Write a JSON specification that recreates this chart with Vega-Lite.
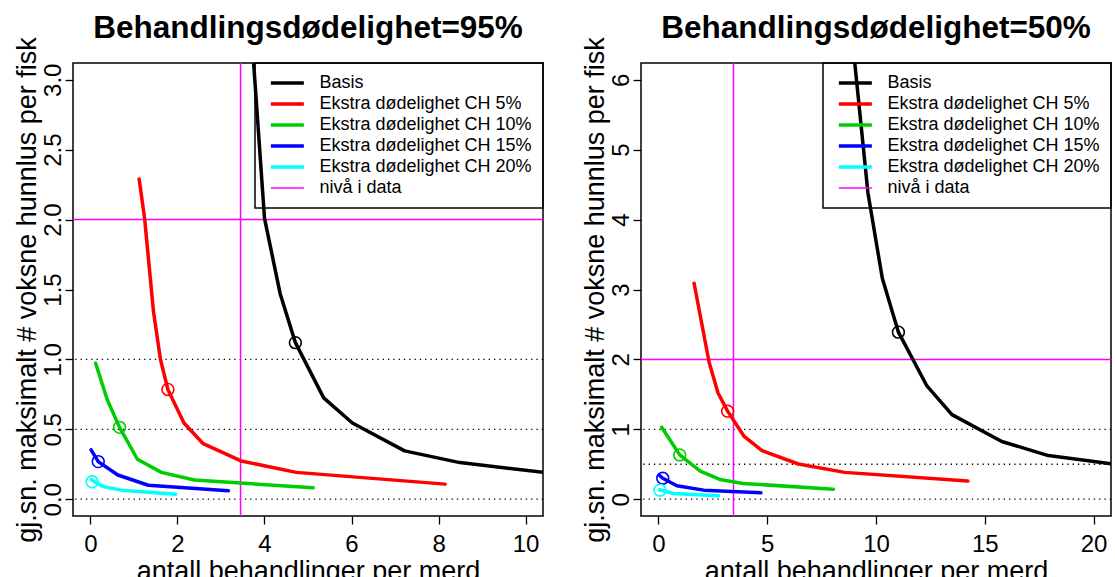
{
  "$schema": "https://vega.github.io/schema/vega-lite/v6.json",
  "background": "white",
  "padding": {"left": 12, "top": 11, "right": 2, "bottom": 0},
  "config": {
    "font": "Liberation Sans",
    "view": {"stroke": "black", "strokeWidth": 1.5},
    "axis": {"domain": false, "grid": false, "tickColor": "black", "tickSize": 8, "tickWidth": 1.3, "labelFontSize": 24, "labelColor": "black", "titleFontSize": 27, "titleFontWeight": "normal", "titleColor": "black", "labelFont": "Liberation Sans", "titleFont": "Liberation Sans", "labelOverlap": false, "labelFlush": false},
    "axisY": {"labelAngle": -90, "labelAlign": "center", "labelBaseline": "alphabetic", "labelPadding": 5, "titlePadding": 0},
    "axisX": {"labelPadding": 8, "titlePadding": 2},
    "legend": {"orient": "top-right", "offset": 0, "strokeColor": "black", "strokeWidth": 1.5, "padding": 11, "labelFontSize": 18, "labelColor": "black", "labelFont": "Liberation Sans", "labelLimit": 0, "symbolType": "M-0.5,0H3.5", "symbolSize": 272, "symbolStrokeWidth": 3.5, "labelOffset": 35.5, "rowPadding": 3, "cornerRadius": 0, "title": null},
    "title": {"fontSize": 31.5, "fontWeight": "bold", "color": "black", "anchor": "middle", "offset": -7.5, "baseline": "alphabetic", "font": "Liberation Sans"}
  },
  "datasets": {
    "dotted": [{"level": 0}, {"level": 0.5}, {"level": 1}],
    "vref": [{"series": "nivå i data", "x": 3.45}],
    "href": [{"series": "nivå i data", "y": 2}],
    "curves95": [
      {"series": "Basis", "x": 3.71, "y": 3.3},
      {"series": "Basis", "x": 4.0, "y": 2.01},
      {"series": "Basis", "x": 4.36, "y": 1.47},
      {"series": "Basis", "x": 4.71, "y": 1.12},
      {"series": "Basis", "x": 5.36, "y": 0.725},
      {"series": "Basis", "x": 6.02, "y": 0.545},
      {"series": "Basis", "x": 7.22, "y": 0.346},
      {"series": "Basis", "x": 8.49, "y": 0.262},
      {"series": "Basis", "x": 10.6, "y": 0.185},
      {"series": "Ekstra dødelighet CH 5%", "x": 1.12, "y": 2.29},
      {"series": "Ekstra dødelighet CH 5%", "x": 1.245, "y": 2.01},
      {"series": "Ekstra dødelighet CH 5%", "x": 1.45, "y": 1.34},
      {"series": "Ekstra dødelighet CH 5%", "x": 1.61, "y": 1.0},
      {"series": "Ekstra dødelighet CH 5%", "x": 1.78, "y": 0.785},
      {"series": "Ekstra dødelighet CH 5%", "x": 2.15, "y": 0.545},
      {"series": "Ekstra dødelighet CH 5%", "x": 2.58, "y": 0.40},
      {"series": "Ekstra dødelighet CH 5%", "x": 3.46, "y": 0.274},
      {"series": "Ekstra dødelighet CH 5%", "x": 4.73, "y": 0.192},
      {"series": "Ekstra dødelighet CH 5%", "x": 8.15, "y": 0.108},
      {"series": "Ekstra dødelighet CH 10%", "x": 0.12, "y": 0.973},
      {"series": "Ekstra dødelighet CH 10%", "x": 0.385, "y": 0.713},
      {"series": "Ekstra dødelighet CH 10%", "x": 0.67, "y": 0.514},
      {"series": "Ekstra dødelighet CH 10%", "x": 1.08, "y": 0.286},
      {"series": "Ekstra dødelighet CH 10%", "x": 1.63, "y": 0.192},
      {"series": "Ekstra dødelighet CH 10%", "x": 2.39, "y": 0.137},
      {"series": "Ekstra dødelighet CH 10%", "x": 5.12, "y": 0.082},
      {"series": "Ekstra dødelighet CH 15%", "x": 0.016, "y": 0.353},
      {"series": "Ekstra dødelighet CH 15%", "x": 0.18, "y": 0.269},
      {"series": "Ekstra dødelighet CH 15%", "x": 0.63, "y": 0.173},
      {"series": "Ekstra dødelighet CH 15%", "x": 1.33, "y": 0.10},
      {"series": "Ekstra dødelighet CH 15%", "x": 3.17, "y": 0.06},
      {"series": "Ekstra dødelighet CH 20%", "x": 0.02, "y": 0.14},
      {"series": "Ekstra dødelighet CH 20%", "x": 0.3, "y": 0.09},
      {"series": "Ekstra dødelighet CH 20%", "x": 0.71, "y": 0.065},
      {"series": "Ekstra dødelighet CH 20%", "x": 1.96, "y": 0.036}
    ],
    "marks95": [
      {"series": "Basis", "x": 4.71, "y": 1.12},
      {"series": "Ekstra dødelighet CH 5%", "x": 1.78, "y": 0.785},
      {"series": "Ekstra dødelighet CH 10%", "x": 0.67, "y": 0.514},
      {"series": "Ekstra dødelighet CH 15%", "x": 0.18, "y": 0.269},
      {"series": "Ekstra dødelighet CH 20%", "x": 0.04, "y": 0.125}
    ],
    "curves50": [
      {"series": "Basis", "x": 8.94, "y": 6.5},
      {"series": "Basis", "x": 9.63, "y": 4.38},
      {"series": "Basis", "x": 10.29, "y": 3.16},
      {"series": "Basis", "x": 11.03, "y": 2.39},
      {"series": "Basis", "x": 12.34, "y": 1.62},
      {"series": "Basis", "x": 13.49, "y": 1.21},
      {"series": "Basis", "x": 15.78, "y": 0.826},
      {"series": "Basis", "x": 17.92, "y": 0.624},
      {"series": "Basis", "x": 21.2, "y": 0.49},
      {"series": "Ekstra dødelighet CH 5%", "x": 1.64, "y": 3.09},
      {"series": "Ekstra dødelighet CH 5%", "x": 2.33, "y": 1.96},
      {"series": "Ekstra dødelighet CH 5%", "x": 2.74, "y": 1.52},
      {"series": "Ekstra dødelighet CH 5%", "x": 3.18, "y": 1.26},
      {"series": "Ekstra dødelighet CH 5%", "x": 3.94, "y": 0.898},
      {"series": "Ekstra dødelighet CH 5%", "x": 4.76, "y": 0.696},
      {"series": "Ekstra dødelighet CH 5%", "x": 6.43, "y": 0.504},
      {"series": "Ekstra dødelighet CH 5%", "x": 8.56, "y": 0.384},
      {"series": "Ekstra dødelighet CH 5%", "x": 14.22, "y": 0.259},
      {"series": "Ekstra dødelighet CH 10%", "x": 0.15, "y": 1.03},
      {"series": "Ekstra dødelighet CH 10%", "x": 0.98, "y": 0.634},
      {"series": "Ekstra dødelighet CH 10%", "x": 1.92, "y": 0.403},
      {"series": "Ekstra dødelighet CH 10%", "x": 2.82, "y": 0.283},
      {"series": "Ekstra dødelighet CH 10%", "x": 3.89, "y": 0.226},
      {"series": "Ekstra dødelighet CH 10%", "x": 8.04, "y": 0.144},
      {"series": "Ekstra dødelighet CH 15%", "x": 0.03, "y": 0.346},
      {"series": "Ekstra dødelighet CH 15%", "x": 0.20, "y": 0.30},
      {"series": "Ekstra dødelighet CH 15%", "x": 0.85, "y": 0.192},
      {"series": "Ekstra dødelighet CH 15%", "x": 2.08, "y": 0.13},
      {"series": "Ekstra dødelighet CH 15%", "x": 4.71, "y": 0.091},
      {"series": "Ekstra dødelighet CH 20%", "x": 0.05, "y": 0.135},
      {"series": "Ekstra dødelighet CH 20%", "x": 0.69, "y": 0.082},
      {"series": "Ekstra dødelighet CH 20%", "x": 2.76, "y": 0.048}
    ],
    "marks50": [
      {"series": "Basis", "x": 11.03, "y": 2.39},
      {"series": "Ekstra dødelighet CH 5%", "x": 3.18, "y": 1.26},
      {"series": "Ekstra dødelighet CH 10%", "x": 0.98, "y": 0.634},
      {"series": "Ekstra dødelighet CH 15%", "x": 0.20, "y": 0.30},
      {"series": "Ekstra dødelighet CH 20%", "x": 0.07, "y": 0.13}
    ]
  },
  "spacing": 35,
  "resolve": {"scale": {"color": "independent", "stroke": "independent"}},
  "hconcat": [
    {
      "width": 470,
      "height": 453,
      "title": {"text": "Behandlingsdødelighet=95%"},
      "layer": [
        {
          "data": {"name": "dotted"},
          "mark": {"type": "rule", "color": "black", "strokeWidth": 1.3, "strokeDash": [1.3, 4]},
          "encoding": {"y": {"field": "level", "type": "quantitative", "scale": {"domain": [-0.12, 3.12], "nice": false, "zero": false}, "axis": {"values": [0, 0.5, 1, 1.5, 2, 2.5, 3], "format": ".1f", "labelFontSize": 24, "title": "gj.sn. maksimalt # voksne hunnlus per fisk"}}}
        },
        {
          "data": {"name": "vref"},
          "mark": {"type": "rule", "strokeWidth": 1.5},
          "encoding": {
            "x": {"field": "x", "type": "quantitative", "scale": {"domain": [-0.4, 10.4], "nice": false, "zero": false}, "axis": {"values": [0, 2, 4, 6, 8, 10], "labelFontSize": 24, "title": "antall behandlinger per merd"}},
            "color": {"field": "series", "type": "nominal"}
          }
        },
        {
          "data": {"name": "href"},
          "mark": {"type": "rule", "strokeWidth": 1.5},
          "encoding": {
            "y": {"field": "y", "type": "quantitative"},
            "color": {"field": "series", "type": "nominal"}
          }
        },
        {
          "data": {"name": "curves95"},
          "mark": {"type": "line", "clip": true, "strokeWidth": 3.5, "strokeCap": "round", "strokeJoin": "round"},
          "encoding": {
            "x": {"field": "x", "type": "quantitative"},
            "y": {"field": "y", "type": "quantitative"},
            "color": {"field": "series", "type": "nominal", "scale": {"domain": ["Basis", "Ekstra dødelighet CH 5%", "Ekstra dødelighet CH 10%", "Ekstra dødelighet CH 15%", "Ekstra dødelighet CH 20%", "nivå i data"], "range": ["#000000", "#FF0000", "#00CD00", "#0000FF", "#00FFFF", "#FF00FF"]}, "legend": {"encode": {"symbols": {"update": {"strokeWidth": {"signal": "datum.value === 'nivå i data' ? 1.5 : 3.5"}}}}}}
          }
        },
        {
          "data": {"name": "marks95"},
          "mark": {"type": "point", "shape": "circle", "filled": false, "size": 140, "strokeWidth": 1.6, "opacity": 1},
          "encoding": {
            "x": {"field": "x", "type": "quantitative"},
            "y": {"field": "y", "type": "quantitative"},
            "stroke": {"field": "series", "type": "nominal", "legend": null, "scale": {"domain": ["Basis", "Ekstra dødelighet CH 5%", "Ekstra dødelighet CH 10%", "Ekstra dødelighet CH 15%", "Ekstra dødelighet CH 20%"], "range": ["#000000", "#FF0000", "#00CD00", "#0000FF", "#00FFFF"]}}
          }
        }
      ]
    },
    {
      "width": 470,
      "height": 453,
      "title": {"text": "Behandlingsdødelighet=50%"},
      "layer": [
        {
          "data": {"name": "dotted"},
          "mark": {"type": "rule", "color": "black", "strokeWidth": 1.3, "strokeDash": [1.3, 4]},
          "encoding": {"y": {"field": "level", "type": "quantitative", "scale": {"domain": [-0.24, 6.24], "nice": false, "zero": false}, "axis": {"values": [0, 1, 2, 3, 4, 5, 6], "format": "d", "labelFontSize": 24, "title": "gj.sn. maksimalt # voksne hunnlus per fisk"}}}
        },
        {
          "data": {"name": "vref"},
          "mark": {"type": "rule", "strokeWidth": 1.5},
          "encoding": {
            "x": {"field": "x", "type": "quantitative", "scale": {"domain": [-0.8, 20.8], "nice": false, "zero": false}, "axis": {"values": [0, 5, 10, 15, 20], "labelFontSize": 24, "title": "antall behandlinger per merd"}},
            "color": {"field": "series", "type": "nominal"}
          }
        },
        {
          "data": {"name": "href"},
          "mark": {"type": "rule", "strokeWidth": 1.5},
          "encoding": {
            "y": {"field": "y", "type": "quantitative"},
            "color": {"field": "series", "type": "nominal"}
          }
        },
        {
          "data": {"name": "curves50"},
          "mark": {"type": "line", "clip": true, "strokeWidth": 3.5, "strokeCap": "round", "strokeJoin": "round"},
          "encoding": {
            "x": {"field": "x", "type": "quantitative"},
            "y": {"field": "y", "type": "quantitative"},
            "color": {"field": "series", "type": "nominal", "scale": {"domain": ["Basis", "Ekstra dødelighet CH 5%", "Ekstra dødelighet CH 10%", "Ekstra dødelighet CH 15%", "Ekstra dødelighet CH 20%", "nivå i data"], "range": ["#000000", "#FF0000", "#00CD00", "#0000FF", "#00FFFF", "#FF00FF"]}, "legend": {"encode": {"symbols": {"update": {"strokeWidth": {"signal": "datum.value === 'nivå i data' ? 1.5 : 3.5"}}}}}}
          }
        },
        {
          "data": {"name": "marks50"},
          "mark": {"type": "point", "shape": "circle", "filled": false, "size": 140, "strokeWidth": 1.6, "opacity": 1},
          "encoding": {
            "x": {"field": "x", "type": "quantitative"},
            "y": {"field": "y", "type": "quantitative"},
            "stroke": {"field": "series", "type": "nominal", "legend": null, "scale": {"domain": ["Basis", "Ekstra dødelighet CH 5%", "Ekstra dødelighet CH 10%", "Ekstra dødelighet CH 15%", "Ekstra dødelighet CH 20%"], "range": ["#000000", "#FF0000", "#00CD00", "#0000FF", "#00FFFF"]}}
          }
        }
      ]
    }
  ]
}
